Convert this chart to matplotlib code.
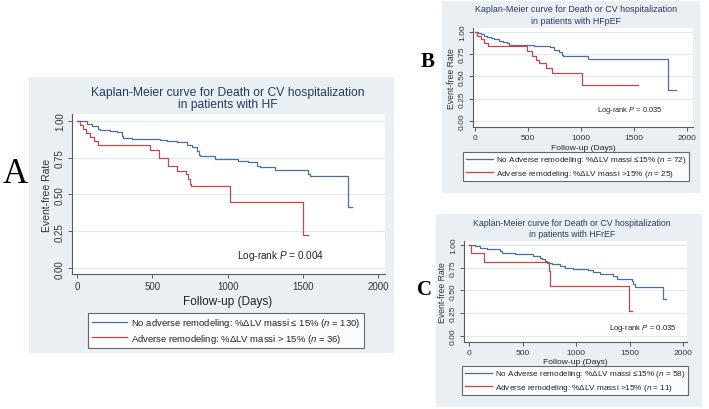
import matplotlib
matplotlib.use('Agg')
import matplotlib.pyplot as plt
from matplotlib.patches import Rectangle
from matplotlib.lines import Line2D

plt.rcParams['font.family'] = ['Liberation Sans', 'DejaVu Sans']
plt.rcParams['mathtext.fontset'] = 'custom'
plt.rcParams['mathtext.rm'] = 'Liberation Sans'
plt.rcParams['mathtext.it'] = 'Liberation Sans:italic'

W, H = 709, 410

BLUE = '#4e6f9c'
RED = '#c0494f'
BG = '#e9eff2'
TITLE_COL = '#27395e'
AX_COL = '#5a5a5a'

# ---- panel A: all HF patients ----
a_blue_t = [0, 20, 68, 97, 141, 153, 219, 263, 297, 308, 363, 551, 595, 662, 728,
            761, 795, 810, 817, 916, 1071, 1138, 1193, 1215, 1315, 1536, 1547, 1802]
a_blue_s = [1.0, 0.996, 0.978, 0.966, 0.944, 0.939, 0.932, 0.921, 0.898, 0.883, 0.876,
            0.871, 0.862, 0.854, 0.835, 0.820, 0.797, 0.768, 0.759, 0.741, 0.725, 0.718,
            0.695, 0.684, 0.668, 0.639, 0.623, 0.413]
a_blue_end = 1828
a_red_t = [0, 20, 40, 60, 85, 110, 140, 485, 547, 607, 662, 724, 739, 750, 757, 1016, 1503]
a_red_s = [1.0, 0.972, 0.944, 0.917, 0.889, 0.861, 0.833, 0.800, 0.745, 0.695, 0.661,
           0.639, 0.605, 0.571, 0.556, 0.447, 0.226]
a_red_end = 1536

# ---- panel B: HFpEF ----
b_blue_t = [0, 25, 50, 80, 110, 150, 180, 220, 260, 300, 320, 550, 708, 739, 786, 818,
            833, 1069, 1824]
b_blue_s = [1.0, 0.986, 0.972, 0.958, 0.944, 0.930, 0.916, 0.900, 0.887, 0.873, 0.857,
            0.840, 0.828, 0.800, 0.772, 0.745, 0.727, 0.697, 0.345]
b_blue_end = 1896
b_red_t = [0, 20, 50, 80, 120, 488, 538, 570, 601, 664, 727, 1012]
b_red_s = [1.0, 0.96, 0.92, 0.88, 0.84, 0.79, 0.734, 0.689, 0.648, 0.592, 0.539, 0.40]
b_red_end = 1538

# ---- panel C: HFrEF ----
c_blue_t = [0, 53, 100, 162, 287, 303, 427, 598, 661, 677, 708, 723, 770, 848, 894, 972,
            1112, 1159, 1222, 1346, 1378, 1518, 1533, 1549, 1813]
c_blue_s = [1.0, 0.989, 0.971, 0.952, 0.934, 0.916, 0.897, 0.879, 0.861, 0.843, 0.824,
            0.806, 0.788, 0.769, 0.751, 0.733, 0.725, 0.703, 0.678, 0.659, 0.630, 0.604,
            0.568, 0.542, 0.403]
c_blue_end = 1838
c_red_t = [0, 15, 140, 745, 758, 1497]
c_red_s = [1.0, 0.909, 0.818, 0.716, 0.545, 0.273]
c_red_end = 1518

x_ticks = [0, 500, 1000, 1500, 2000]
y_ticks = [0.0, 0.25, 0.5, 0.75, 1.0]
title_line1 = 'Kaplan-Meier curve for Death or CV hospitalization'


def fx(x):
    return x / W


def fy(y):
    return 1 - y / H


def add_bg(fig, x0, y0, x1, y1):
    fig.patches.append(Rectangle((fx(x0), fy(y1)), (x1 - x0) / W, (y1 - y0) / H,
                                 transform=fig.transFigure, facecolor=BG,
                                 edgecolor='none', zorder=-10))


def km(ax, t, s, end, color):
    ax.plot(t + [end], s + [s[-1]], drawstyle='steps-post', color=color, lw=0.9)


def panel(fig, rect, xlim, ylim, blue, red, fs_tick, fs_lab, pval, pxy, fs_p):
    x0, y0, x1, y1 = rect
    ax = fig.add_axes([fx(x0), fy(y1), (x1 - x0) / W, (y1 - y0) / H], zorder=5)
    ax.set_facecolor('white')
    ax.yaxis.grid(True, color='#e3eaee', lw=0.8)
    ax.set_axisbelow(True)
    km(ax, *blue, BLUE)
    km(ax, *red, RED)
    ax.set_xlim(*xlim)
    ax.set_ylim(*ylim)
    ax.set_xticks(x_ticks)
    ax.set_yticks(y_ticks)
    ax.set_yticklabels(['%.2f' % v for v in y_ticks], rotation=90, va='center')
    for side in ['top', 'right']:
        ax.spines[side].set_visible(False)
    for side in ['left', 'bottom']:
        ax.spines[side].set_color(AX_COL)
        ax.spines[side].set_linewidth(0.8)
    ax.tick_params(colors=AX_COL, labelcolor='#333333', labelsize=fs_tick,
                   length=3, width=0.7, pad=2)
    ax.set_ylabel('Event-free Rate', fontsize=fs_lab, color='#333333', labelpad=2)
    ax.text(pxy[0], pxy[1], 'Log-rank $P$ = ' + pval, fontsize=fs_p,
            color='#222222', ha='center', va='center')
    return ax


def legend(fig, cx, cy, labels, fs, hl):
    handles = [Line2D([], [], color=BLUE, lw=0.9), Line2D([], [], color=RED, lw=0.9)]
    leg = fig.legend(handles, labels, loc='center', bbox_to_anchor=(fx(cx), fy(cy)),
                     fontsize=fs, frameon=True, fancybox=False, handlelength=hl,
                     handletextpad=0.4, borderpad=0.35, labelspacing=0.25,
                     borderaxespad=0)
    leg.get_frame().set_edgecolor('#444444')
    leg.get_frame().set_linewidth(0.8)
    for txt in leg.get_texts():
        txt.set_color('#222222')


def main():
    fig = plt.figure(figsize=(W / 100, H / 100), dpi=100)
    fig.patch.set_facecolor('white')

    # A
    add_bg(fig, 29, 78, 394, 354)
    panel(fig, (72, 115, 385, 275), (-33, 2045), (-0.039, 1.045),
          (a_blue_t, a_blue_s, a_blue_end), (a_red_t, a_red_s, a_red_end),
          7, 7.5, '0.004', (1350, 0.09), 7.2)
    fig.text(fx(228), fy(93), title_line1, fontsize=8.7, color=TITLE_COL,
             ha='center', va='center')
    fig.text(fx(228), fy(105), 'in patients with HF', fontsize=8.7,
             color=TITLE_COL, ha='center', va='center')
    fig.text(fx(228), fy(302), 'Follow-up (Days)', fontsize=8.5, color='#222222',
             ha='center', va='center')
    legend(fig, 226, 331.5,
           ['No adverse remodeling: %\u0394LV massi \u2264 15% ($n$ = 130)',
            'Adverse remodeling: %\u0394LV massi > 15% ($n$ = 36)'], 6.8, 3.8)
    fig.text(fx(15), fy(175), 'A', fontsize=25, family='Liberation Serif',
             ha='center', va='center')

    # B
    add_bg(fig, 442, 2, 700, 194)
    panel(fig, (473, 29, 693, 128), (-22, 2057), (-0.071, 1.045),
          (b_blue_t, b_blue_s, b_blue_end), (b_red_t, b_red_s, b_red_end),
          6, 6.2, '0.035', (1462, 0.124), 5.4)
    fig.text(fx(576), fy(10), title_line1, fontsize=6.4, color=TITLE_COL,
             ha='center', va='center')
    fig.text(fx(576), fy(21), 'in patients with HFpEF', fontsize=6.4,
             color=TITLE_COL, ha='center', va='center')
    fig.text(fx(583), fy(149), 'Follow-up (Days)', fontsize=6.1, color='#222222',
             ha='center', va='center')
    legend(fig, 576, 167.5,
           ['No Adverse remodeling: %\u0394LV massi \u226415% ($n$ = 72)',
            'Adverse remodeling: %\u0394LV massi >15% ($n$ = 25)'], 5.9, 3.3)
    fig.text(fx(428), fy(62), 'B', fontsize=15, family='Liberation Serif',
             weight='bold', ha='center', va='center')

    # C
    add_bg(fig, 436, 215, 702, 408)
    panel(fig, (464, 242, 687, 343), (-50, 2035), (-0.066, 1.044),
          (c_blue_t, c_blue_s, c_blue_end), (c_red_t, c_red_s, c_red_end),
          6, 6.2, '0.035', (1623, 0.096), 5.6)
    fig.text(fx(572), fy(224), title_line1, fontsize=6.3, color=TITLE_COL,
             ha='center', va='center')
    fig.text(fx(572), fy(235), 'in patients with HFrEF', fontsize=6.3,
             color=TITLE_COL, ha='center', va='center')
    fig.text(fx(575), fy(363), 'Follow-up (Days)', fontsize=6.1, color='#222222',
             ha='center', va='center')
    legend(fig, 575, 381.5,
           ['No Adverse remodeling: %\u0394LV massi \u226415% ($n$ = 58)',
            'Adverse remodeling: %\u0394LV massi >15% ($n$ = 11)'], 5.9, 3.3)
    fig.text(fx(425), fy(290), 'C', fontsize=15, family='Liberation Serif',
             weight='bold', ha='center', va='center')

    fig.savefig('out.png', dpi=100)


if __name__ == "__main__":
    main()
